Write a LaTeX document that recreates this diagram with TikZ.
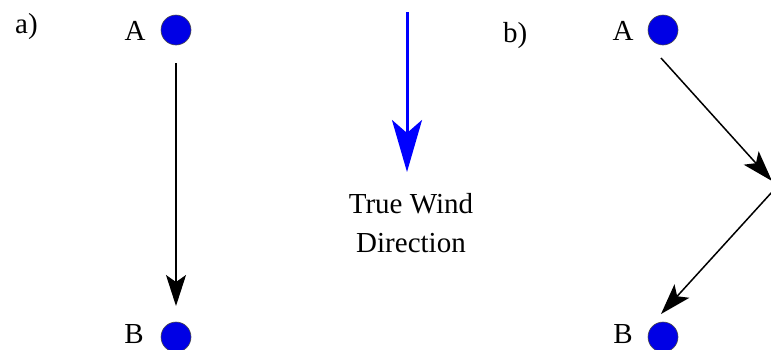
\documentclass[tikz,border=0pt]{standalone}
\usepackage{fontspec}
\setmainfont{Liberation Serif}
\usetikzlibrary{arrows.meta}
\begin{document}
\begin{tikzpicture}[x=1pt,y=-1pt,
  dot/.style={circle,fill=blue!90!black,draw=black!70,line width=0.6pt,minimum size=30pt,inner sep=0pt},
  lbl/.style={font=\fontsize{29}{39}\selectfont,inner sep=0pt,anchor=base},
  conn/.style={line width=1.5pt,-{Stealth[length=31pt,width=20pt,inset=7pt]}},
  wind/.style={blue,line width=3pt,-{Stealth[length=52pt,width=30pt,inset=13pt]}}]
\useasboundingbox (0,0) rectangle (771,349);
\clip (0,0) rectangle (771,349);
% panel a
\node[lbl,anchor=base west] (la) at (15,33) {a)};
\node[dot] (A1) at (176,30) {};
\node[lbl] (tA1) at (135,40) {A};
\node[dot] (B1) at (176,337) {};
\node[lbl] (tB1) at (134,343) {B};
\coordinate (s1) at (176,63);
\coordinate (e1) at (176,306);
\draw[conn] (s1) -- (e1);
% wind
\coordinate (ws) at (407,12);
\coordinate (we) at (407,172);
\draw[wind] (ws) -- (we);
\node[lbl] (w1) at (411,213) {True Wind};
\node[lbl] (w2) at (411,252) {Direction};
% panel b
\node[lbl,anchor=base west] (lb) at (503,42) {b)};
\node[dot] (A2) at (663,30) {};
\node[lbl] (tA2) at (623,40) {A};
\node[dot] (B2) at (663,337) {};
\node[lbl] (tB2) at (623,343) {B};
\coordinate (s2) at (661,58);
\coordinate (e2) at (772,181);
\coordinate (s3) at (772,192);
\coordinate (e3) at (661,314);
\draw[conn] (s2) -- (e2);
\draw[conn] (s3) -- (e3);
\end{tikzpicture}
\end{document}
